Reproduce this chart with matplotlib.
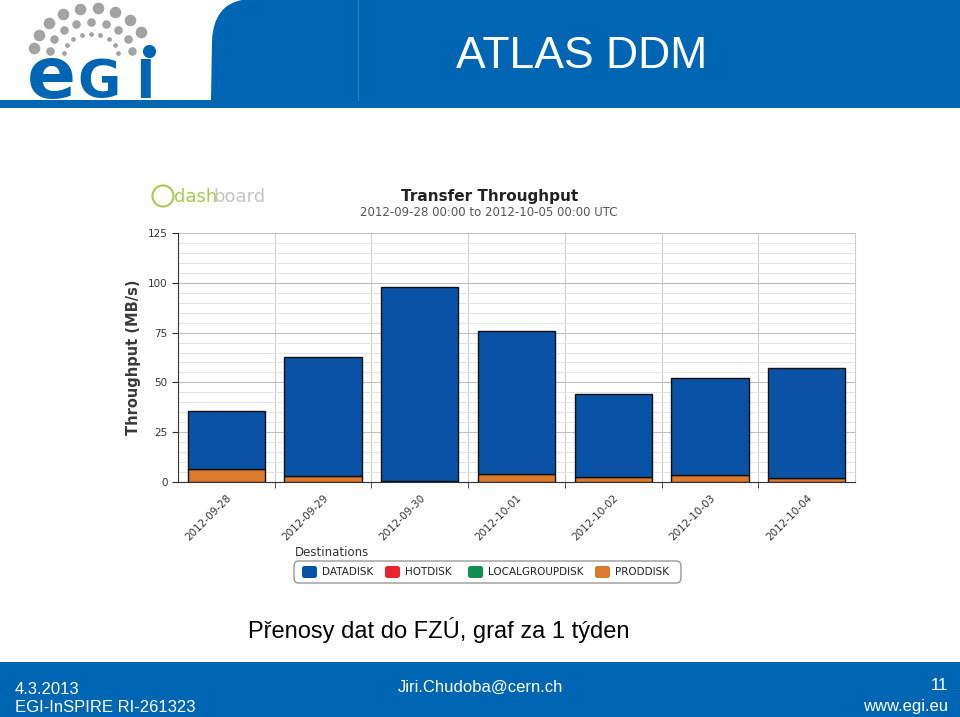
import numpy as np
import matplotlib.pyplot as plt
from matplotlib.patches import Rectangle, FancyBboxPatch, PathPatch
from matplotlib.path import Path

days = ['2012-09-28', '2012-09-29', '2012-09-30', '2012-10-01',
        '2012-10-02', '2012-10-03', '2012-10-04']
total = [35.6, 62.7, 97.9, 75.8, 44.2, 52.2, 57.2]
proddisk = [6.5, 3.0, 0.5, 4.0, 2.5, 3.5, 2.0]
hotdisk = [0, 0, 0, 0, 0, 0, 0]
localgroupdisk = [0, 0, 0, 0, 0, 0, 0]
datadisk = [t - p for t, p in zip(total, proddisk)]

series = ['DATADISK', 'HOTDISK', 'LOCALGROUPDISK', 'PRODDISK']
colors = {'DATADISK': '#0a52a5', 'HOTDISK': '#e8232b',
          'LOCALGROUPDISK': '#0f8f4c', 'PRODDISK': '#dc7a2e'}

W, H = 960, 717
fig = plt.figure(figsize=(9.6, 7.17), dpi=100)
bg = fig.add_axes([0, 0, 1, 1])
bg.set_xlim(0, W)
bg.set_ylim(H, 0)
bg.axis('off')

blue = '#0066b3'
# header band
bg.add_patch(Rectangle((0, 0), W, 108, color=blue, lw=0))
verts = [(0, 0), (242, 0), (214, 5), (212, 40), (211, 100), (0, 100), (0, 0)]
codes = [Path.MOVETO, Path.LINETO, Path.CURVE3, Path.CURVE3, Path.LINETO,
         Path.LINETO, Path.CLOSEPOLY]
bg.add_patch(PathPatch(Path(verts, codes), facecolor='white', lw=0))
bg.plot([358, 358], [0, 100], color='#2a7cc0', lw=0.8)
bg.text(582, 57, 'ATLAS DDM', color='white', fontsize=32,
        family='Liberation Sans', ha='center', va='center')

# egi logo: gray arc of dots plus letters
cx, cy = 91, 56
for rx, ry, s, end in [(58, 48, 70, 0.17), (42, 34, 38, 0.05),
                       (27, 22, 12, 0.05)]:
    for a in np.linspace(np.pi * 0.95, np.pi * end, 9 if end > 0.1 else 9):
        bg.scatter(cx + rx * np.cos(a), cy - ry * np.sin(a), s=s,
                   color='#a3a3a3', lw=0, zorder=3)
bg.scatter(149, 51, s=90, color=blue, lw=0, zorder=4)
bg.text(27, 98, 'e', color=blue, fontsize=52, fontweight='bold',
        family='DejaVu Sans', ha='left', va='baseline')
bg.text(77, 98, 'G', color=blue, fontsize=38, fontweight='bold',
        family='DejaVu Sans', ha='left', va='baseline')
bg.text(135, 98, 'I', color=blue, fontsize=38, fontweight='bold',
        family='DejaVu Sans', ha='left', va='baseline')

# footer band
bg.add_patch(Rectangle((0, 662), W, H - 662, color=blue, lw=0))
ff = dict(color='white', fontsize=12, family='Liberation Sans', va='center')
bg.text(15, 689, '4.3.2013', ha='left', **ff)
bg.text(15, 708, 'EGI-InSPIRE RI-261323', ha='left', **ff)
bg.text(480, 687, 'Jiri.Chudoba@cern.ch', ha='center', **ff)
bg.text(948, 686, '11', ha='right', **ff)
bg.text(948, 707, 'www.egi.eu', ha='right', **ff)

bg.text(248, 630, 'Přenosy dat do FZÚ, graf za 1 týden', fontsize=17,
        family='Liberation Sans', ha='left', va='center', color='black')

# dashboard header
bg.scatter(163, 196, s=230, facecolor='none', edgecolor='#a8c94e', lw=1.5)
bg.text(174, 197, 'dash', color='#a8c94e', fontsize=13, ha='left',
        va='center', family='DejaVu Sans')
bg.text(213, 197, 'board', color='#c4c4c4', fontsize=13, ha='left',
        va='center', family='DejaVu Sans')
bg.text(490, 196, 'Transfer Throughput', fontsize=11, fontweight='bold',
        ha='center', va='center', color='#222222')
bg.text(489, 213, '2012-09-28 00:00 to 2012-10-05 00:00 UTC', fontsize=8.5,
        ha='center', va='center', color='#555555')

# chart
ax = fig.add_axes([178 / W, 1 - 482 / H, (855 - 178) / W, (482 - 233) / H])
x = np.arange(len(days))
bottom = np.zeros(len(days))
stack = [('PRODDISK', proddisk), ('LOCALGROUPDISK', localgroupdisk),
         ('HOTDISK', hotdisk), ('DATADISK', datadisk)]
for name, vals in stack:
    v = np.array(vals, dtype=float)
    mask = v > 0
    ax.bar(x[mask], v[mask], 0.8, bottom=bottom[mask], color=colors[name],
           edgecolor='#111111', lw=1, zorder=3)
    bottom += v

ax.set_xlim(-0.5, len(days) - 0.5)
ax.set_ylim(0, 125)
ax.set_yticks(np.arange(0, 126, 25))
ax.set_yticks(np.arange(0, 126, 5), minor=True)
ax.set_xticks(x)
ax.set_xticklabels(days, rotation=45, ha='right', rotation_mode='anchor',
                   fontsize=7.5, color='#333333')
ax.set_xticks(np.arange(0.5, len(days) - 0.5, 1), minor=True)
ax.tick_params(axis='x', which='major', length=0, pad=8)
ax.tick_params(axis='x', which='minor', length=4, color='#333333')
ax.tick_params(axis='y', which='major', labelsize=7.5, length=4,
               colors='#333333')
ax.tick_params(axis='y', which='minor', length=0)
ax.grid(axis='y', which='minor', color='#e4e4e4', lw=0.7, zorder=0)
ax.grid(axis='y', which='major', color='#c0c0c0', lw=0.8, zorder=1)
for b in np.arange(0.5, len(days) - 0.5, 1):
    ax.axvline(b, color='#cccccc', lw=0.8, zorder=1)
ax.spines['top'].set_visible(False)
ax.spines['right'].set_color('#cccccc')
ax.spines['left'].set_color('#333333')
ax.spines['bottom'].set_color('#333333')
ax.set_ylabel('Throughput (MB/s)', fontsize=10.5, fontweight='semibold',
              color='#3a3a3a', labelpad=5)

# legend
bg.text(295, 552, 'Destinations', fontsize=8.5, ha='left', va='center',
        color='#333333')
bg.add_patch(FancyBboxPatch((294, 561), 387, 22,
                            boxstyle='round,pad=0,rounding_size=5',
                            facecolor='white', edgecolor='#999999', lw=1))
lx = [302, 385, 468, 595]
for px, name in zip(lx, series):
    bg.add_patch(FancyBboxPatch((px, 566), 15, 12,
                                boxstyle='round,pad=0,rounding_size=2.5',
                                facecolor=colors[name], edgecolor='none'))
    bg.text(px + 20, 572, name, fontsize=7.5, ha='left', va='center',
            color='#222222')

fig.savefig('out.png', dpi=100)
